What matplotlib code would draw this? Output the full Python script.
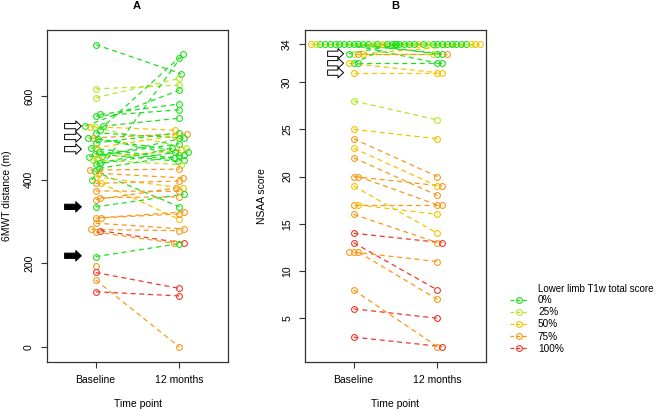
import numpy as np
import matplotlib
matplotlib.use("Agg")
import matplotlib.pyplot as plt
from matplotlib.lines import Line2D

plt.rcParams["font.family"] = ["Liberation Sans", "DejaVu Sans"]

score_labels = ["0%", "25%", "50%", "75%", "100%"]
score_colors = ["#1fe01f", "#b4e82a", "#f5c400", "#f79a1b", "#ee3a2a"]
time_labels = ["Baseline", "12 months"]

# 6MWT distance (m), one entry per subject
mwt_base = [723, 617, 596, 556, 552, 528, 528, 527, 525, 519, 512, 500, 500, 498,
            488, 476, 476, 467, 462, 457, 455, 452, 447, 440, 437, 427, 423, 420,
            415, 407, 399, 392, 391, 373, 357, 352, 335, 309, 308, 296, 281, 278,
            275, 216, 193, 178, 160, 132]
mwt_12m = [653, 626, 642, 581, 567, 547, 614, 518, 476, 692, 500, 510, 466, 459,
           512, 505, 452, 446, 444, 500, 486, 470, 436, 475, 465, 459, 425, 335,
           404, 380, 700, 305, 397, 372, 359, 380, 365, 323, 318, 282, 278, 248,
           248, 247, np.nan, 140, 0, 122]
mwt_score = [0, 1, 1, 0, 0, 0, 0, 2, 1, 0, 0, 3, 0, 0,
             0, 2, 0, 0, 0, 0, 0, 2, 1, 0, 0, 0, 3, 0,
             3, 2, 0, 2, 3, 3, 3, 3, 0, 3, 3, 3, 3, 4,
             3, 0, 3, 4, 3, 4]

# NSAA score
nsaa_base = [34, 34, 34] + [34] * 16 + [33, 33, 33, 33, 32, 32, 32, 31,
             28, 25, 24, 23, 22, 20, 20, 19, 17, 17, 16, 14, 13, 12, 12, 12, 8, 6, 3]
nsaa_12m = [33, 33, 32] + [34] * 16 + [33, 33, 34, 34, 34, 32, 31, 31,
            26, 24, 20, 19, 18, 19, 17, 14, 17, 16, 13, 13, 8, 11, 7, np.nan, 2, 5, 2]
nsaa_score = [0, 0, 0] + [0, 0, 0, 0, 1, 0, 0, 0, 2, 0, 0, 0, 0, 1, 0, 2] + \
             [1, 3, 0, 2, 0, 0, 2, 2,
              1, 2, 3, 2, 3, 3, 3, 2, 3, 2, 3, 4, 4, 3, 3, 3, 3, 4, 4]

mwt_open_arrows = [528, 502, 473]
mwt_filled_arrows = [335, 218]
nsaa_open_arrows = [33, 32, 31]

FS = 7.5


def swarm_offsets(vals, px_per_y, px_per_x, size=5.0):
    # beeswarm style placement: each point goes as near the centre as it can
    vals = np.asarray(vals, dtype=float)
    order = np.argsort(vals, kind="stable")
    placed = []
    out = np.full(len(vals), np.nan)
    for i in order:
        if np.isnan(vals[i]):
            continue
        y = vals[i] * px_per_y
        cands = [0.0]
        for qx, qy in placed:
            dy = abs(qy - y)
            if dy < size:
                dx = np.sqrt(size ** 2 - dy ** 2)
                cands += [qx + dx, qx - dx]
        cands.sort(key=abs)
        for c in cands:
            if all((c - qx) ** 2 + (y - qy) ** 2 >= size ** 2 - 1e-6 for qx, qy in placed):
                break
        placed.append((c, y))
        out[i] = c / px_per_x
    return out


def plot_panel(ax, base, m12, score, ylim, px_per_y, size):
    px_per_x = 84.0
    xb = 1 + swarm_offsets(base, px_per_y, px_per_x, size)
    xm = 2 + swarm_offsets(m12, px_per_y, px_per_x, size)
    for i in range(len(base)):
        col = score_colors[score[i]]
        if not np.isnan(m12[i]):
            ax.plot([xb[i], xm[i]], [base[i], m12[i]], color=col, lw=0.9,
                    linestyle=(0, (4, 3)), zorder=2)
        ax.plot(xb[i], base[i], "o", mfc="none", mec=col, ms=4.2, mew=0.8, zorder=3)
        if not np.isnan(m12[i]):
            ax.plot(xm[i], m12[i], "o", mfc="none", mec=col, ms=4.2, mew=0.8, zorder=3)
    ax.set_xlim(0.42, 2.58)
    ax.set_ylim(*ylim)
    ax.set_xticks([1, 2])
    ax.set_xticklabels(time_labels)
    ax.tick_params(axis="both", direction="out", length=4.3, width=0.8,
                   labelsize=FS, color="#333333")
    ax.tick_params(axis="x", pad=5)
    ax.tick_params(axis="y", labelrotation=90, pad=5)
    for lab in ax.get_yticklabels():
        lab.set_va("center")
    for sp in ax.spines.values():
        sp.set_linewidth(0.9)
        sp.set_color("#333333")


def draw_arrow(ax, y, x0, x1, filled):
    ax.annotate("", xy=(x1, y), xytext=(x0, y),
                arrowprops=dict(arrowstyle="simple,head_length=0.4,head_width=0.75,tail_width=0.38",
                                fc="black" if filled else "white", ec="black", lw=0.7,
                                shrinkA=0, shrinkB=0, mutation_scale=10),
                zorder=5)


fig = plt.figure(figsize=(6.6, 4.11), dpi=100)
W, H = 660.0, 411.0
axA = fig.add_axes([47 / W, 1 - 362 / H, 181 / W, 332.5 / H])
axB = fig.add_axes([305 / W, 1 - 362 / H, 181 / W, 332.5 / H])

plot_panel(axA, mwt_base, mwt_12m, mwt_score, (-36, 759), 0.4183, 5.0)
axA.set_yticks([0, 200, 400, 600])
for v in mwt_open_arrows:
    draw_arrow(axA, v, 0.63, 0.83, False)
for v in mwt_filled_arrows:
    draw_arrow(axA, v, 0.63, 0.83, True)

plot_panel(axB, nsaa_base, nsaa_12m, nsaa_score, (0.37, 35.57), 9.43, 4.75)
axB.set_yticks([5, 10, 15, 20, 25, 30, 34])
for v in nsaa_open_arrows:
    draw_arrow(axB, v, 0.69, 0.88, False)

fig.text(137 / W, 1 - 6 / H, "A", ha="center", va="center", fontsize=8, fontweight="bold")
fig.text(395 / W, 1 - 6 / H, "B", ha="center", va="center", fontsize=8, fontweight="bold")
fig.text(7 / W, 1 - 196 / H, "6MWT distance (m)", rotation=90, ha="center", va="center", fontsize=FS)
fig.text(262 / W, 1 - 196 / H, "NSAA score", rotation=90, ha="center", va="center", fontsize=FS)
fig.text(138 / W, 1 - 404 / H, "Time point", ha="center", va="center", fontsize=FS)
fig.text(395 / W, 1 - 404 / H, "Time point", ha="center", va="center", fontsize=FS)

# legend
fig.text(538 / W, 1 - 289 / H, "Lower limb T1w total score", ha="left", va="center", fontsize=7)
handles = [Line2D([], [], color=c, lw=0.9, linestyle=(0, (3, 2)), marker="o",
                  mfc="none", mec=c, ms=4.2, mew=0.8) for c in score_colors]
fig.legend(handles, score_labels, loc="upper left", bbox_to_anchor=(510 / W, 1 - 295 / H),
           frameon=False, fontsize=7.2, handlelength=1.7, handletextpad=1.1,
           labelspacing=0.22, borderpad=0, borderaxespad=0)

fig.savefig("out.png", dpi=100)
